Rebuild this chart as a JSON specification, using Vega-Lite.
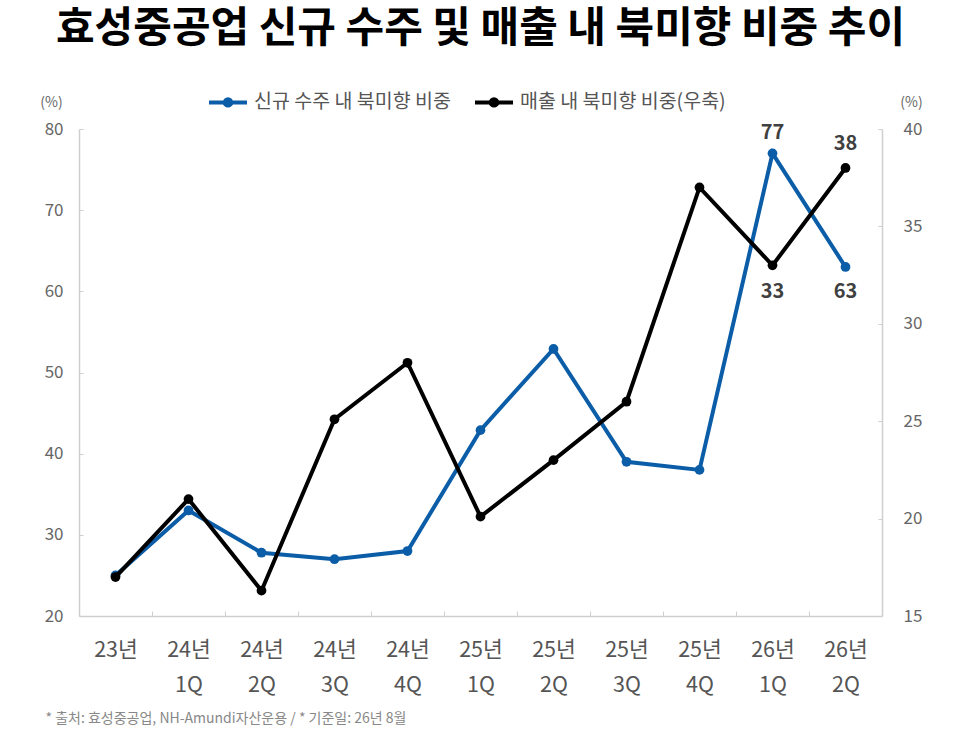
{
  "$schema": "https://vega.github.io/schema/vega-lite/v6.json",
  "width": 803,
  "height": 487,
  "autosize": "none",
  "padding": {"left": 79, "top": 129, "right": 84, "bottom": 114},
  "background": "white",
  "config": {"font": "Noto Sans CJK KR", "view": {"stroke": null}},
  "title": {
    "text": "효성중공업 신규 수주 및 매출 내 북미향 비중 추이",
    "fontSize": 42,
    "fontWeight": "bold",
    "color": "#000000",
    "anchor": "middle",
    "offset": 30
  },
  "data": {
    "values": [
      {"quarter": "23년", "series": "신규 수주 내 북미향 비중", "value": 25},
      {"quarter": "24년 1Q", "series": "신규 수주 내 북미향 비중", "value": 33},
      {"quarter": "24년 2Q", "series": "신규 수주 내 북미향 비중", "value": 27.8},
      {"quarter": "24년 3Q", "series": "신규 수주 내 북미향 비중", "value": 27},
      {"quarter": "24년 4Q", "series": "신규 수주 내 북미향 비중", "value": 28},
      {"quarter": "25년 1Q", "series": "신규 수주 내 북미향 비중", "value": 42.9},
      {"quarter": "25년 2Q", "series": "신규 수주 내 북미향 비중", "value": 52.9},
      {"quarter": "25년 3Q", "series": "신규 수주 내 북미향 비중", "value": 39},
      {"quarter": "25년 4Q", "series": "신규 수주 내 북미향 비중", "value": 38},
      {"quarter": "26년 1Q", "series": "신규 수주 내 북미향 비중", "value": 77},
      {"quarter": "26년 2Q", "series": "신규 수주 내 북미향 비중", "value": 63},
      {"quarter": "23년", "series": "매출 내 북미향 비중(우축)", "value": 17},
      {"quarter": "24년 1Q", "series": "매출 내 북미향 비중(우축)", "value": 21},
      {"quarter": "24년 2Q", "series": "매출 내 북미향 비중(우축)", "value": 16.3},
      {"quarter": "24년 3Q", "series": "매출 내 북미향 비중(우축)", "value": 25.1},
      {"quarter": "24년 4Q", "series": "매출 내 북미향 비중(우축)", "value": 28},
      {"quarter": "25년 1Q", "series": "매출 내 북미향 비중(우축)", "value": 20.1},
      {"quarter": "25년 2Q", "series": "매출 내 북미향 비중(우축)", "value": 23},
      {"quarter": "25년 3Q", "series": "매출 내 북미향 비중(우축)", "value": 26},
      {"quarter": "25년 4Q", "series": "매출 내 북미향 비중(우축)", "value": 37},
      {"quarter": "26년 1Q", "series": "매출 내 북미향 비중(우축)", "value": 33},
      {"quarter": "26년 2Q", "series": "매출 내 북미향 비중(우축)", "value": 38}
    ]
  },
  "encoding": {
    "x": {
      "field": "quarter",
      "type": "ordinal",
      "sort": null,
      "scale": {"type": "band", "paddingInner": 0, "paddingOuter": 0},
      "axis": {
        "title": "* 출처: 효성중공업, NH-Amundi자산운용 / * 기준일: 26년 8월",
        "titleX": -34,
        "titleY": 102,
        "titleAlign": "left",
        "titleAnchor": "start",
        "titleBaseline": "middle",
        "titleFontSize": 14,
        "titleFontWeight": "normal",
        "titleColor": "#888888",
        "labelExpr": "split(datum.label, ' ')",
        "labelAngle": 0,
        "labelFontSize": 21.5,
        "labelColor": "#555555",
        "labelLineHeight": 35,
        "labelBaseline": "top",
        "labelPadding": 28,
        "tickBand": "extent",
        "tickSize": -5,
        "tickColor": "#cfcfcf",
        "domainColor": "#cfcfcf",
        "domainWidth": 1.5
      }
    }
  },
  "layer": [
    {
      "transform": [{"filter": "datum.series == '신규 수주 내 북미향 비중'"}],
      "encoding": {
        "y": {
          "field": "value",
          "type": "quantitative",
          "scale": {"domain": [20, 80], "nice": false, "zero": false},
          "axis": {
            "orient": "left",
            "values": [20, 30, 40, 50, 60, 70, 80],
            "title": "(%)",
            "titleAngle": 0,
            "titleX": -28,
            "titleY": -27,
            "titleAlign": "center",
            "titleBaseline": "middle",
            "titleFontSize": 14,
            "titleFontWeight": "normal",
            "titleColor": "#666666",
            "labelFontSize": 17,
            "labelColor": "#666666",
            "labelPadding": 20,
            "tickSize": -4,
            "tickColor": "#cfcfcf",
            "domainColor": "#cfcfcf",
            "domainWidth": 1.5,
            "grid": false
          }
        }
      },
      "layer": [
        {
          "mark": {"type": "line", "strokeWidth": 4},
          "encoding": {
            "color": {
              "field": "series",
              "type": "nominal",
              "scale": {"domain": ["신규 수주 내 북미향 비중", "매출 내 북미향 비중(우축)"], "range": ["#0B5DA7", "#000000"]},
              "legend": {
                "title": null,
                "orient": "none",
                "legendX": 128,
                "legendY": -48,
                "direction": "horizontal",
                "symbolType": "M-1,0H1M0.17,0A0.17,0.17,0,1,1,-0.17,0A0.17,0.17,0,1,1,0.17,0Z",
                "symbolSize": 1444,
                "symbolStrokeWidth": 4,
                "labelFontSize": 19.5,
                "labelLimit": 0,
                "labelColor": "#555555",
                "labelOffset": 5,
                "columnPadding": 16,
                "padding": 0,
                "encode": {
                  "symbols": {
                    "update": {
                      "fill": {"scale": "color", "field": "value"},
                      "stroke": {"scale": "color", "field": "value"},
                      "opacity": {"value": 1}
                    }
                  }
                }
              }
            }
          }
        },
        {
          "mark": {"type": "point", "filled": true, "size": 95, "opacity": 1},
          "encoding": {"color": {"field": "series", "type": "nominal"}}
        },
        {
          "transform": [{"filter": "datum.quarter == '26년 1Q'"}],
          "mark": {"type": "text", "fontSize": 20, "fontWeight": "bold", "color": "#404040", "dy": -20},
          "encoding": {"text": {"field": "value", "type": "quantitative"}}
        },
        {
          "transform": [{"filter": "datum.quarter == '26년 2Q'"}],
          "mark": {"type": "text", "fontSize": 20, "fontWeight": "bold", "color": "#404040", "dy": 25},
          "encoding": {"text": {"field": "value", "type": "quantitative"}}
        }
      ]
    },
    {
      "transform": [{"filter": "datum.series == '매출 내 북미향 비중(우축)'"}],
      "encoding": {
        "y": {
          "field": "value",
          "type": "quantitative",
          "scale": {"domain": [15, 40], "nice": false, "zero": false},
          "axis": {
            "orient": "right",
            "values": [15, 20, 25, 30, 35, 40],
            "title": "(%)",
            "titleAngle": 0,
            "titleX": 29,
            "titleY": -27,
            "titleAlign": "center",
            "titleBaseline": "middle",
            "titleFontSize": 14,
            "titleFontWeight": "normal",
            "titleColor": "#666666",
            "labelFontSize": 17,
            "labelColor": "#666666",
            "labelPadding": 25,
            "tickSize": -4,
            "tickColor": "#cfcfcf",
            "domainColor": "#cfcfcf",
            "domainWidth": 1.5,
            "grid": false
          }
        }
      },
      "layer": [
        {
          "mark": {"type": "line", "strokeWidth": 4},
          "encoding": {"color": {"field": "series", "type": "nominal"}}
        },
        {
          "mark": {"type": "point", "filled": true, "size": 95, "opacity": 1},
          "encoding": {"color": {"field": "series", "type": "nominal"}}
        },
        {
          "transform": [{"filter": "datum.quarter == '26년 1Q'"}],
          "mark": {"type": "text", "fontSize": 20, "fontWeight": "bold", "color": "#404040", "dy": 27},
          "encoding": {"text": {"field": "value", "type": "quantitative"}}
        },
        {
          "transform": [{"filter": "datum.quarter == '26년 2Q'"}],
          "mark": {"type": "text", "fontSize": 20, "fontWeight": "bold", "color": "#404040", "dy": -24},
          "encoding": {"text": {"field": "value", "type": "quantitative"}}
        }
      ]
    }
  ],
  "resolve": {"scale": {"y": "independent"}}
}
